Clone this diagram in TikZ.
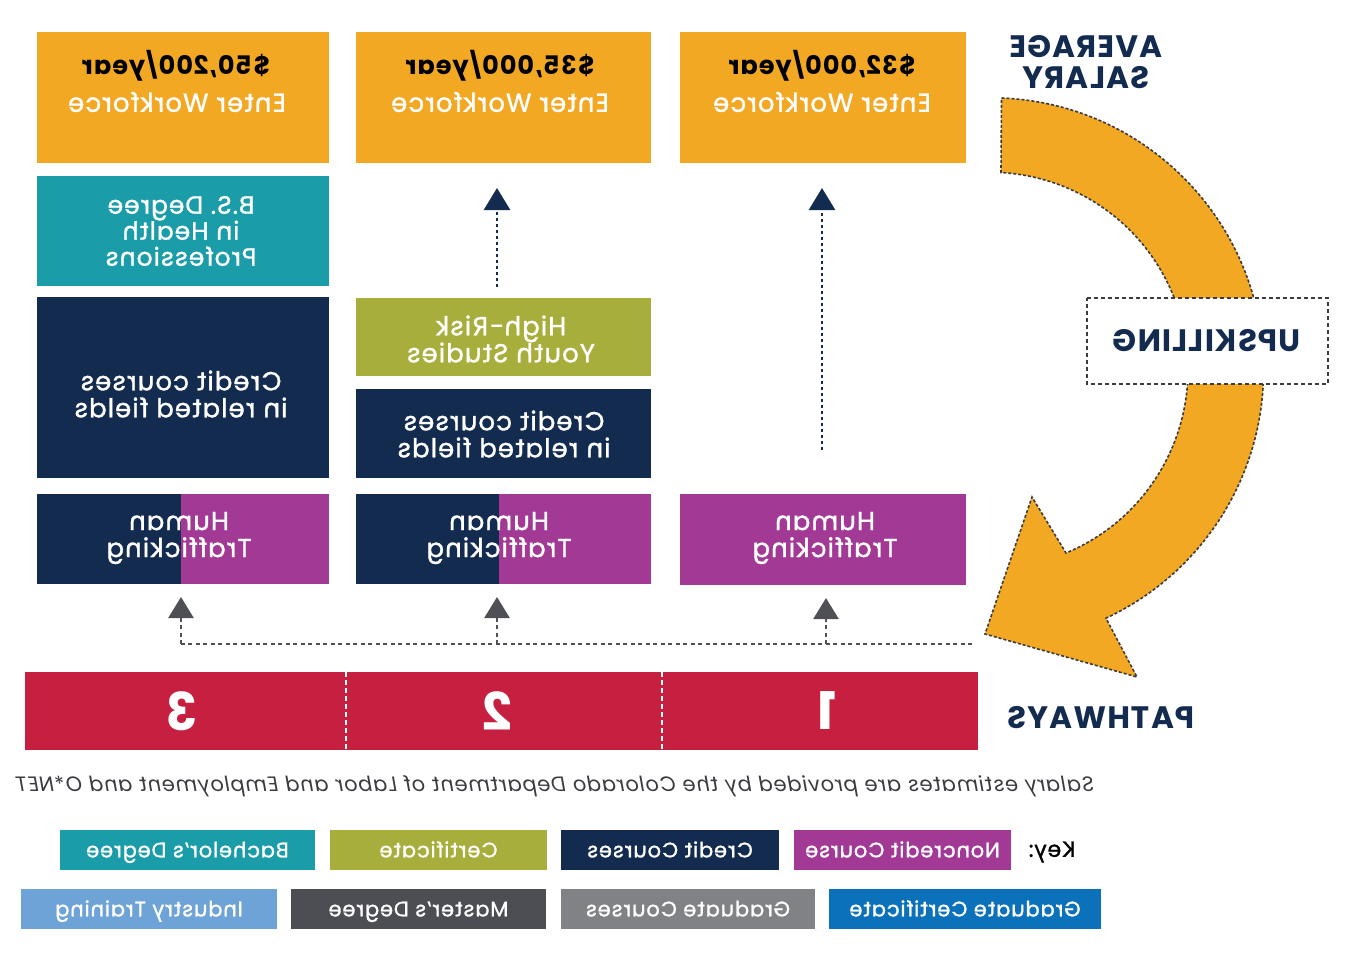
\documentclass[tikz,border=0pt]{standalone}
\usepackage{fontspec}
\setmainfont{Poppins}[LetterSpace=4]
\newfontfamily\medfont{Poppins}[LetterSpace=4, FakeBold=1.2]
\usetikzlibrary{arrows.meta}
\definecolor{corange}{HTML}{F3A823}
\definecolor{cteal}{HTML}{1A9CA9}
\definecolor{cnavy}{HTML}{132B4F}
\definecolor{cpurple}{HTML}{A23A95}
\definecolor{colive}{HTML}{A8AE3B}
\definecolor{cred}{HTML}{C61F3F}
\definecolor{cblue}{HTML}{0A71BA}
\definecolor{cgray}{HTML}{818285}
\definecolor{cdgray}{HTML}{4C4E53}
\definecolor{clblue}{HTML}{6DA3D7}
\definecolor{carrow}{HTML}{4E5055}
\definecolor{cline}{HTML}{3A3C40}
\begin{document}
\begin{tikzpicture}[x=1pt,y=-1pt,
  every node/.style={xscale=-1},
  box/.style={inner sep=0pt, outer sep=0pt},
  lbl/.style={align=center, font=\medfont\fontsize{26}{27}\selectfont, text=white, inner sep=0pt},
  sal/.style={font=\bfseries\fontsize{25.5}{27}\selectfont, text=black, inner sep=0pt},
  head/.style={align=center, font=\bfseries\fontsize{31}{31}\selectfont, text=cnavy, inner sep=0pt},
  num/.style={font=\bfseries\fontsize{52}{52}\selectfont, text=white, inner sep=0pt},
  keybox/.style={inner sep=0pt, minimum height=40pt, text height=16pt, text depth=1.3pt, text=white, font=\medfont\fontsize{21}{22}\selectfont},
  navyarrow/.style={draw=cnavy, line width=2.5pt, dash pattern=on 3pt off 3pt, -{Triangle[width=26pt,length=22pt]}},
  grayline/.style={draw=carrow, line width=2.5pt, dash pattern=on 4pt off 3.5pt},
  grayarrow/.style={grayline, -{Triangle[width=25pt,length=21pt]}},
  arcline/.style={draw=cline, line width=1.6pt, dash pattern=on 3pt off 2pt}]
\useasboundingbox (0,0) rectangle (1356,953);
\fill[white] (0,0) rectangle (1356,953);
% orange curved arrow
\filldraw[fill=corange, arcline] (1001.5,98) arc[start angle=-87.7, end angle=65, radius=273] -- (1137,677) -- (985,634) -- (1032,497) -- (1066,553) arc[start angle=67.4, end angle=-86.8, radius=198] -- cycle;
% top boxes
\node[box, fill=corange, minimum width=292pt, minimum height=131pt] (o1) at (183,97.5) {};
\node[box, fill=corange, minimum width=295pt, minimum height=131pt] (o2) at (503.5,97.5) {};
\node[box, fill=corange, minimum width=286pt, minimum height=131pt] (o3) at (823,97.5) {};
\node[sal] (s1) at (176,66) {\$50,200/year};
\node[sal] (s2) at (500,66) {\$35,000/year};
\node[sal] (s3) at (822,66) {\$32,000/year};
\node[lbl] (e1) at (177,102) {Enter Workforce};
\node[lbl] (e2) at (500,102) {Enter Workforce};
\node[lbl] (e3) at (822,102) {Enter Workforce};
% column 3 (left)
\node[box, fill=cteal, minimum width=292pt, minimum height=110pt] (bs) at (183,231) {};
\node[lbl, font=\medfont\fontsize{25}{26}\selectfont] (bst) at (181,231) {B.S. Degree\\in Health\\Professions};
\node[box, fill=cnavy, minimum width=292pt, minimum height=181pt] (crL) at (183,387.5) {};
\node[lbl] (crLt) at (181,394) {Credit courses\\in related fields};
\node[box, fill=cnavy, minimum width=144pt, minimum height=90pt] (htLn) at (109,539) {};
\node[box, fill=cpurple, minimum width=148pt, minimum height=90pt] (htLp) at (255,539) {};
\node[lbl] (htLt) at (179,538) {Human\\Trafficking};
% column 2 (middle)
\node[box, fill=colive, minimum width=295pt, minimum height=78pt] (hr) at (503.5,337) {};
\node[lbl] (hrt) at (501,339) {High-Risk\\Youth Studies};
\node[box, fill=cnavy, minimum width=295pt, minimum height=89pt] (crM) at (503.5,433.5) {};
\node[lbl] (crMt) at (504,434) {Credit courses\\in related fields};
\node[box, fill=cnavy, minimum width=143pt, minimum height=90pt] (htMn) at (427.5,539) {};
\node[box, fill=cpurple, minimum width=152pt, minimum height=90pt] (htMp) at (575,539) {};
\node[lbl] (htMt) at (499,538) {Human\\Trafficking};
% column 1 (right)
\node[box, fill=cpurple, minimum width=286pt, minimum height=91pt] (htR) at (823,539.5) {};
\node[lbl] (htRt) at (825,538) {Human\\Trafficking};
% navy arrows
\coordinate (ca) at (497,0);
\coordinate (cb) at (822,0);
\draw[navyarrow, shorten <=11pt, shorten >=25pt] (hr.north -| ca) -- (o2.south -| ca);
\draw[navyarrow, shorten <=44pt, shorten >=25pt] (htR.north -| cb) -- (o3.south -| cb);
% gray arrows
\coordinate (gs) at (972,644);
\coordinate (g1) at (181,644);
\coordinate (g2) at (497,644);
\coordinate (g3) at (826,644);
\draw[grayline] (gs) -- (g1);
\draw[grayarrow, shorten >=13pt] (g1) -- (htLn.south -| g1);
\draw[grayarrow, shorten >=13pt] (g2) -- (htMn.south -| g2);
\draw[grayarrow, shorten >=13pt] (g3) -- (htR.south -| g3);
% upskilling
\node[box, fill=white, draw=cline, line width=2pt, dash pattern=on 4pt off 3pt, minimum width=241pt, minimum height=86pt, font=\bfseries\fontsize{31}{31}\selectfont, text=cnavy] (up) at (1207,341) {UPSKILLING};
\node[head] (avg) at (1086,62) {AVERAGE\\SALARY};
% pathways bar
\node[box, fill=cred, minimum width=953pt, minimum height=78pt] (rb) at (501.5,711) {};
\coordinate (d1) at (346,0);
\coordinate (d2) at (662,0);
\draw[white, line width=2pt, dash pattern=on 5pt off 3pt] (rb.north -| d1) -- (rb.south -| d1);
\draw[white, line width=2pt, dash pattern=on 5pt off 3pt] (rb.north -| d2) -- (rb.south -| d2);
\node[num] (n3) at (182,711) {3};
\node[num] (n2) at (498,711) {2};
\node[num] (n1) at (827,711) {1};
\node[head] (pw) at (1101,718) {PATHWAYS};
% note
\node[inner sep=0pt, font=\itshape\fontsize{20.8}{24}\selectfont, text=cline] (note) at (555,786) {Salary estimates are provided by the Colorado Department of Labor and Employment and O*NET};
% key
\node[inner sep=0pt, font=\medfont\fontsize{22}{24}\selectfont, text=black] (key) at (1052,852) {Key:};
\node[keybox, fill=cpurple, minimum width=217pt] (k1) at (902.5,850) {Noncredit Course};
\node[keybox, fill=cnavy, minimum width=218pt] (k2) at (670,850) {Credit Courses};
\node[keybox, fill=colive, minimum width=217pt] (k3) at (438.5,850) {Certificate};
\node[keybox, fill=cteal, minimum width=255pt] (k4) at (187.5,850) {Bachelor’s Degree};
\node[keybox, fill=cblue, minimum width=272pt] (k5) at (965,909) {Graduate Certificate};
\node[keybox, fill=cgray, minimum width=254pt] (k6) at (688,909) {Graduate Courses};
\node[keybox, fill=cdgray, minimum width=255pt] (k7) at (418.5,909) {Master’s Degree};
\node[keybox, fill=clblue, minimum width=256pt] (k8) at (149,909) {Industry Training};
\end{tikzpicture}
\end{document}
